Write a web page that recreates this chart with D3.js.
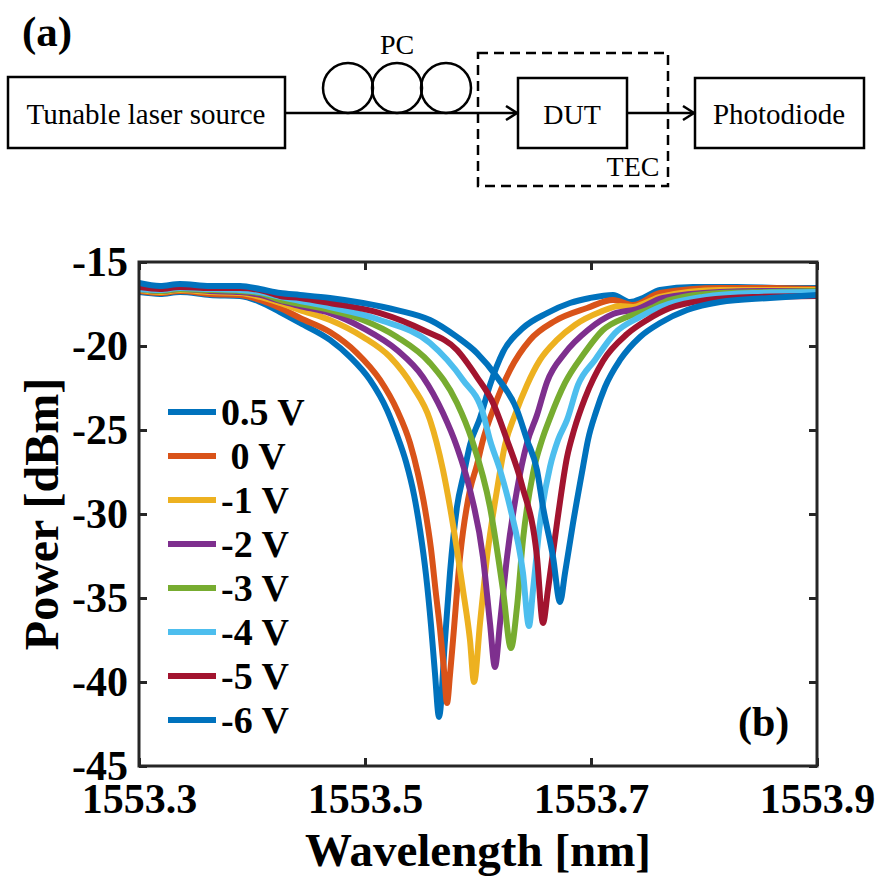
<!DOCTYPE html>
<html>
<head>
<meta charset="utf-8">
<script src="https://cdn.jsdelivr.net/npm/d3@7"></script>
<style>
  body { margin: 0; background: #fff; }
  svg text { font-family: "Liberation Serif", "Times New Roman", serif; }
</style>
</head>
<body>
<svg id="fig" width="876" height="880"></svg>
<script>
// transmission spectra, [wavelength nm, power dBm]
const s05V = [[1553.3000,-16.79],[1553.3186,-16.90],[1553.3363,-16.79],[1553.3628,-16.96],[1553.3894,-17.02],[1553.4071,-17.38],[1553.4248,-17.98],[1553.4425,-18.63],[1553.4690,-19.64],[1553.4867,-20.65],[1553.5044,-22.02],[1553.5195,-23.81],[1553.5283,-25.30],[1553.5363,-26.90],[1553.5434,-28.87],[1553.5487,-30.95],[1553.5540,-33.63],[1553.5584,-36.61],[1553.5619,-39.46],[1553.5655,-42.08],[1553.5708,-37.50],[1553.5752,-33.51],[1553.5814,-29.58],[1553.5876,-27.56],[1553.5929,-25.89],[1553.6018,-24.29],[1553.6106,-22.32],[1553.6221,-20.36],[1553.6398,-18.93],[1553.6611,-18.04],[1553.6814,-17.44],[1553.6991,-17.14],[1553.7195,-16.96],[1553.7345,-17.38],[1553.7460,-17.14],[1553.7611,-16.67],[1553.7903,-16.49],[1553.8292,-16.49],[1553.8735,-16.55],[1553.9000,-16.55]];
const s0V = [[1553.3000,-16.73],[1553.3186,-16.85],[1553.3363,-16.73],[1553.3628,-16.90],[1553.3894,-16.96],[1553.4071,-17.26],[1553.4248,-17.74],[1553.4425,-18.33],[1553.4690,-19.17],[1553.4929,-20.42],[1553.5133,-22.02],[1553.5283,-23.81],[1553.5398,-25.77],[1553.5469,-27.62],[1553.5531,-29.70],[1553.5584,-32.08],[1553.5628,-34.76],[1553.5664,-36.85],[1553.5699,-39.29],[1553.5726,-41.25],[1553.5752,-39.58],[1553.5779,-37.50],[1553.5841,-32.56],[1553.5929,-28.57],[1553.5991,-27.08],[1553.6044,-25.60],[1553.6133,-23.81],[1553.6283,-21.43],[1553.6460,-19.64],[1553.6681,-18.51],[1553.6965,-17.74],[1553.7195,-17.26],[1553.7372,-17.56],[1553.7611,-16.85],[1553.8142,-16.55],[1553.8584,-16.55],[1553.9000,-16.61]];
const sm1V = [[1553.3000,-16.67],[1553.3186,-16.79],[1553.3363,-16.67],[1553.3628,-16.79],[1553.3894,-16.85],[1553.4071,-17.08],[1553.4248,-17.44],[1553.4425,-17.86],[1553.4690,-18.45],[1553.4982,-19.46],[1553.5221,-20.65],[1553.5425,-22.44],[1553.5575,-24.40],[1553.5690,-27.38],[1553.5752,-29.58],[1553.5867,-34.52],[1553.5929,-37.50],[1553.5965,-40.00],[1553.6018,-36.49],[1553.6080,-32.56],[1553.6168,-28.57],[1553.6239,-25.89],[1553.6327,-24.11],[1553.6434,-22.32],[1553.6549,-20.83],[1553.6699,-19.64],[1553.6858,-18.75],[1553.7080,-17.98],[1553.7257,-17.62],[1553.7372,-17.68],[1553.7478,-17.44],[1553.7611,-17.08],[1553.8142,-16.67],[1553.8584,-16.67],[1553.9000,-16.67]];
const sm2V = [[1553.3000,-16.61],[1553.3186,-16.73],[1553.3363,-16.61],[1553.3628,-16.73],[1553.3894,-16.79],[1553.4071,-16.96],[1553.4248,-17.32],[1553.4425,-17.62],[1553.4690,-18.04],[1553.4982,-18.93],[1553.5283,-20.24],[1553.5513,-21.85],[1553.5690,-23.99],[1553.5814,-26.01],[1553.5929,-28.57],[1553.6044,-32.56],[1553.6106,-36.49],[1553.6150,-39.11],[1553.6195,-36.49],[1553.6257,-32.56],[1553.6345,-28.57],[1553.6434,-25.77],[1553.6522,-24.11],[1553.6611,-22.14],[1553.6770,-20.42],[1553.6973,-19.05],[1553.7195,-18.10],[1553.7407,-17.80],[1553.7637,-17.14],[1553.8142,-16.79],[1553.8584,-16.73],[1553.9000,-16.73]];
const sm3V = [[1553.3000,-16.61],[1553.3186,-16.73],[1553.3363,-16.61],[1553.3628,-16.67],[1553.3894,-16.73],[1553.4071,-16.85],[1553.4248,-17.26],[1553.4425,-17.50],[1553.4690,-17.86],[1553.4982,-18.45],[1553.5283,-19.46],[1553.5575,-21.01],[1553.5814,-23.39],[1553.5947,-25.60],[1553.6106,-29.58],[1553.6221,-34.52],[1553.6292,-37.98],[1553.6345,-35.54],[1553.6398,-31.55],[1553.6487,-27.56],[1553.6566,-25.60],[1553.6637,-24.29],[1553.6770,-22.20],[1553.6929,-20.54],[1553.7106,-19.05],[1553.7319,-18.27],[1553.7496,-17.86],[1553.7699,-17.26],[1553.8142,-16.85],[1553.8584,-16.79],[1553.9000,-16.73]];
const sm4V = [[1553.3000,-16.61],[1553.3186,-16.67],[1553.3363,-16.55],[1553.3628,-16.61],[1553.3894,-16.67],[1553.4071,-16.79],[1553.4248,-17.08],[1553.4425,-17.32],[1553.4690,-17.68],[1553.5133,-18.45],[1553.5575,-19.82],[1553.5867,-22.02],[1553.6044,-23.99],[1553.6106,-25.60],[1553.6195,-27.38],[1553.6283,-29.58],[1553.6398,-33.51],[1553.6451,-36.67],[1553.6487,-34.52],[1553.6549,-30.54],[1553.6637,-27.20],[1553.6708,-25.60],[1553.6788,-24.40],[1553.6885,-22.32],[1553.7035,-20.83],[1553.7212,-19.23],[1553.7434,-18.27],[1553.7611,-17.68],[1553.7991,-17.08],[1553.8434,-16.85],[1553.9000,-16.79]];
const sm5V = [[1553.3000,-16.49],[1553.3186,-16.61],[1553.3363,-16.49],[1553.3628,-16.55],[1553.3894,-16.55],[1553.4071,-16.67],[1553.4248,-17.02],[1553.4425,-17.14],[1553.4690,-17.44],[1553.5133,-18.04],[1553.5513,-19.05],[1553.5814,-20.24],[1553.5991,-21.85],[1553.6133,-23.39],[1553.6257,-25.60],[1553.6389,-28.27],[1553.6522,-32.56],[1553.6575,-36.49],[1553.6619,-34.52],[1553.6699,-30.54],[1553.6788,-26.61],[1553.6850,-25.00],[1553.6947,-23.10],[1553.7106,-20.89],[1553.7319,-19.29],[1553.7496,-18.45],[1553.7699,-17.74],[1553.8027,-17.26],[1553.8434,-17.08],[1553.9000,-17.02]];
const sm6V = [[1553.3000,-16.25],[1553.3186,-16.43],[1553.3363,-16.31],[1553.3628,-16.43],[1553.3894,-16.43],[1553.4071,-16.61],[1553.4248,-16.85],[1553.4425,-16.96],[1553.4690,-17.14],[1553.4982,-17.44],[1553.5283,-17.86],[1553.5575,-18.45],[1553.5814,-19.46],[1553.5991,-20.42],[1553.6168,-21.85],[1553.6345,-23.81],[1553.6434,-25.60],[1553.6522,-27.38],[1553.6575,-29.58],[1553.6664,-32.56],[1553.6726,-35.24],[1553.6770,-33.51],[1553.6841,-30.54],[1553.6929,-27.20],[1553.6973,-25.60],[1553.7044,-23.93],[1553.7124,-22.44],[1553.7257,-20.83],[1553.7434,-19.46],[1553.7611,-18.63],[1553.7850,-17.86],[1553.8142,-17.38],[1553.8584,-17.14],[1553.9000,-16.96]];

const voltLabels = ['0.5 V', ' 0 V', '-1 V', '-2 V', '-3 V', '-4 V', '-5 V', '-6 V'];
const lineColors = ['#0072BD', '#D95319', '#EDB120', '#7E2F8E', '#77AC30', '#4DBEEE', '#A2142F', '#0072BD'];
const xTicks = [1553.3, 1553.5, 1553.7, 1553.9];
const yTicks = [-45, -40, -35, -30, -25, -20, -15];

const series = [s05V, s0V, sm1V, sm2V, sm3V, sm4V, sm5V, sm6V];

const svg = d3.select('#fig');

// ---------- (a) setup diagram ----------
const diag = svg.append('g').attr('stroke', '#000').attr('fill', 'none').attr('stroke-width', 2.5);

diag.append('rect').attr('x', 8).attr('y', 77).attr('width', 277).attr('height', 71);
diag.append('rect').attr('x', 518).attr('y', 78).attr('width', 109).attr('height', 70);
diag.append('rect').attr('x', 695).attr('y', 78).attr('width', 169).attr('height', 70);
diag.append('rect').attr('x', 478).attr('y', 53).attr('width', 190).attr('height', 133)
    .attr('stroke-dasharray', '10,6');

// fibre + polarisation controller loops
diag.append('line').attr('x1', 285).attr('y1', 113).attr('x2', 517).attr('y2', 113);
[348, 397, 446].forEach(cx => {
    diag.append('circle').attr('cx', cx).attr('cy', 88).attr('r', 25);
});
diag.append('line').attr('x1', 627).attr('y1', 113).attr('x2', 694).attr('y2', 113);

function arrowHead(xTip, yTip){
    diag.append('path')
        .attr('d', `M${xTip-11},${yTip-7} L${xTip},${yTip} L${xTip-11},${yTip+7}`);
}
arrowHead(517, 113);
arrowHead(694, 113);

const diagText = (txt, x, y, size, opts={}) => svg.append('text')
    .attr('x', x).attr('y', y)
    .attr('text-anchor', opts.anchor || 'middle')
    .attr('font-size', size)
    .attr('font-weight', opts.bold ? 'bold' : 'normal')
    .attr('fill', '#000')
    .text(txt);

diagText('(a)', 22, 46, 43, {anchor: 'start', bold: true});
diagText('PC', 397, 54, 28);
diagText('Tunable laser source', 146, 124, 29);
diagText('DUT', 572, 124, 28);
diagText('Photodiode', 779, 124, 29);
diagText('TEC', 633, 176, 28);

// ---------- (b) spectra ----------
const plotL = 139, plotR = 817, plotT = 262, plotB = 766;

const x = d3.scaleLinear().domain([1553.3, 1553.9]).range([plotL, plotR]);
const y = d3.scaleLinear().domain([-45, -15]).range([plotB, plotT]);

svg.append('clipPath').attr('id', 'plotClip')
    .append('rect').attr('x', plotL).attr('y', plotT)
    .attr('width', plotR - plotL).attr('height', plotB - plotT);

const line = d3.line()
    .x(d => x(d[0]))
    .y(d => y(d[1]))
    .curve(d3.curveMonotoneX);

svg.append('g').attr('clip-path', 'url(#plotClip)')
    .selectAll('path')
    .data(series)
    .join('path')
    .attr('d', line)
    .attr('fill', 'none')
    .attr('stroke', (d, i) => lineColors[i])
    .attr('stroke-width', 6)
    .attr('stroke-linejoin', 'round')
    .attr('stroke-linecap', 'round');

// axes
const axisColor = '#262626';
const styleAxis = g => {
    g.select('.domain').remove();
    g.selectAll('.tick line').attr('stroke', axisColor).attr('stroke-width', 3);
    g.selectAll('.tick text')
        .attr('fill', '#000')
        .attr('font-size', 42)
        .attr('font-weight', 'bold')
        .attr('font-family', '"Liberation Serif", "Times New Roman", serif');
};

svg.append('g').attr('transform', `translate(0,${plotB})`)
    .call(d3.axisBottom(x).tickValues(xTicks).tickFormat(d3.format('.1f'))
        .tickSizeInner(-8).tickSizeOuter(0).tickPadding(17))
    .call(styleAxis);
svg.append('g').attr('transform', `translate(0,${plotT})`)
    .call(d3.axisTop(x).tickValues(xTicks).tickFormat('').tickSizeInner(-8).tickSizeOuter(0))
    .call(styleAxis);
svg.append('g').attr('transform', `translate(${plotL},0)`)
    .call(d3.axisLeft(y).tickValues(yTicks).tickFormat(d => d3.format('d')(d).replace('\u2212', '-'))
        .tickSizeInner(-8).tickSizeOuter(0).tickPadding(11))
    .call(styleAxis);
svg.append('g').attr('transform', `translate(${plotR},0)`)
    .call(d3.axisRight(y).tickValues(yTicks).tickFormat('').tickSizeInner(-8).tickSizeOuter(0))
    .call(styleAxis);

svg.append('rect')
    .attr('x', plotL).attr('y', plotT)
    .attr('width', plotR - plotL).attr('height', plotB - plotT)
    .attr('fill', 'none').attr('stroke', axisColor).attr('stroke-width', 3);

// axis titles
svg.append('text')
    .attr('x', (plotL + plotR) / 2).attr('y', 866)
    .attr('text-anchor', 'middle')
    .attr('font-size', 47).attr('font-weight', 'bold')
    .text('Wavelength [nm]');

svg.append('text')
    .attr('transform', `translate(58,${(plotT + plotB) / 2}) rotate(-90)`)
    .attr('text-anchor', 'middle')
    .attr('font-size', 48).attr('font-weight', 'bold')
    .text('Power [dBm]');

// legend (no box)
const legend = svg.append('g');
voltLabels.forEach((lab, i) => {
    const ly = 412 + i * 44;
    legend.append('line')
        .attr('x1', 168).attr('x2', 216).attr('y1', ly).attr('y2', ly)
        .attr('stroke', lineColors[i]).attr('stroke-width', 6);
    legend.append('text')
        .attr('x', 221).attr('y', ly + 13)
        .attr('font-size', 38).attr('font-weight', 'bold')
        .style('white-space', 'pre')
        .text(lab);
});

svg.append('text')
    .attr('x', 738).attr('y', 736)
    .attr('font-size', 42).attr('font-weight', 'bold')
    .text('(b)');
</script>
</body>
</html>
